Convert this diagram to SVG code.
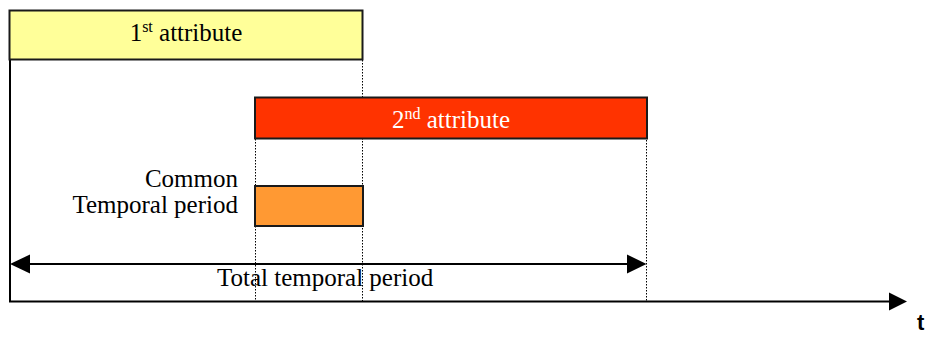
<svg xmlns="http://www.w3.org/2000/svg" width="932" height="338" viewBox="0 0 932 338">
  <style>
    .lbl { font-family: "Liberation Serif", "Times New Roman", serif; font-size: 25px; fill: #000; }
    .box { stroke: #1a1a1a; stroke-width: 2; }
    .dot { stroke: #000; stroke-width: 1; stroke-dasharray: 1.5 1.5; fill: none; }
    .solid { stroke: #000; stroke-width: 2; fill: none; }
    .head { fill: #000; }
  </style>
  <rect width="932" height="338" fill="#fff"/>
  <g id="connectors">
    <line class="dot" x1="362.5" y1="60" x2="362.5" y2="301"/>
    <line class="dot" x1="255.5" y1="139" x2="255.5" y2="301"/>
    <line class="dot" x1="646.5" y1="98" x2="646.5" y2="301"/>
    <line class="solid" x1="10" y1="59" x2="10" y2="302"/>
    <line class="solid" x1="9" y1="301.5" x2="890" y2="301.5"/>
    <polygon class="head" points="889,292.5 907,301.5 889,310.5"/>
    <line class="solid" x1="28" y1="264" x2="629" y2="264"/>
    <polygon class="head" points="10,264 30,254.5 30,273.5"/>
    <polygon class="head" points="646.5,264 627,254.5 627,273.5"/>
  </g>
  <g id="attr1">
    <rect class="box" x="9.5" y="10.5" width="353" height="49" fill="#FFFF99"/>
    <text class="lbl" x="186" y="41" text-anchor="middle">1<tspan font-size="16" dy="-9">st</tspan><tspan dy="9"> attribute</tspan></text>
  </g>
  <g id="attr2">
    <rect class="box" x="255" y="97.5" width="392" height="41" fill="#FF3300"/>
    <text class="lbl" x="451" y="128" text-anchor="middle" style="fill:#fff">2<tspan font-size="16" dy="-9">nd</tspan><tspan dy="9"> attribute</tspan></text>
  </g>
  <g id="common">
    <rect class="box" x="255" y="186" width="108" height="40" fill="#FF9933"/>
    <text class="lbl" x="238" y="187" text-anchor="end">Common</text>
    <text class="lbl" x="238" y="213" text-anchor="end">Temporal period</text>
  </g>
  <g id="total">
    <text class="lbl" x="217" y="286">Total temporal period</text>
  </g>
  <g id="axis-label">
    <text x="917" y="330" style="font-family:'Liberation Sans', Arial, sans-serif; font-size:22px; font-weight:bold; fill:#000">t</text>
  </g>
</svg>
